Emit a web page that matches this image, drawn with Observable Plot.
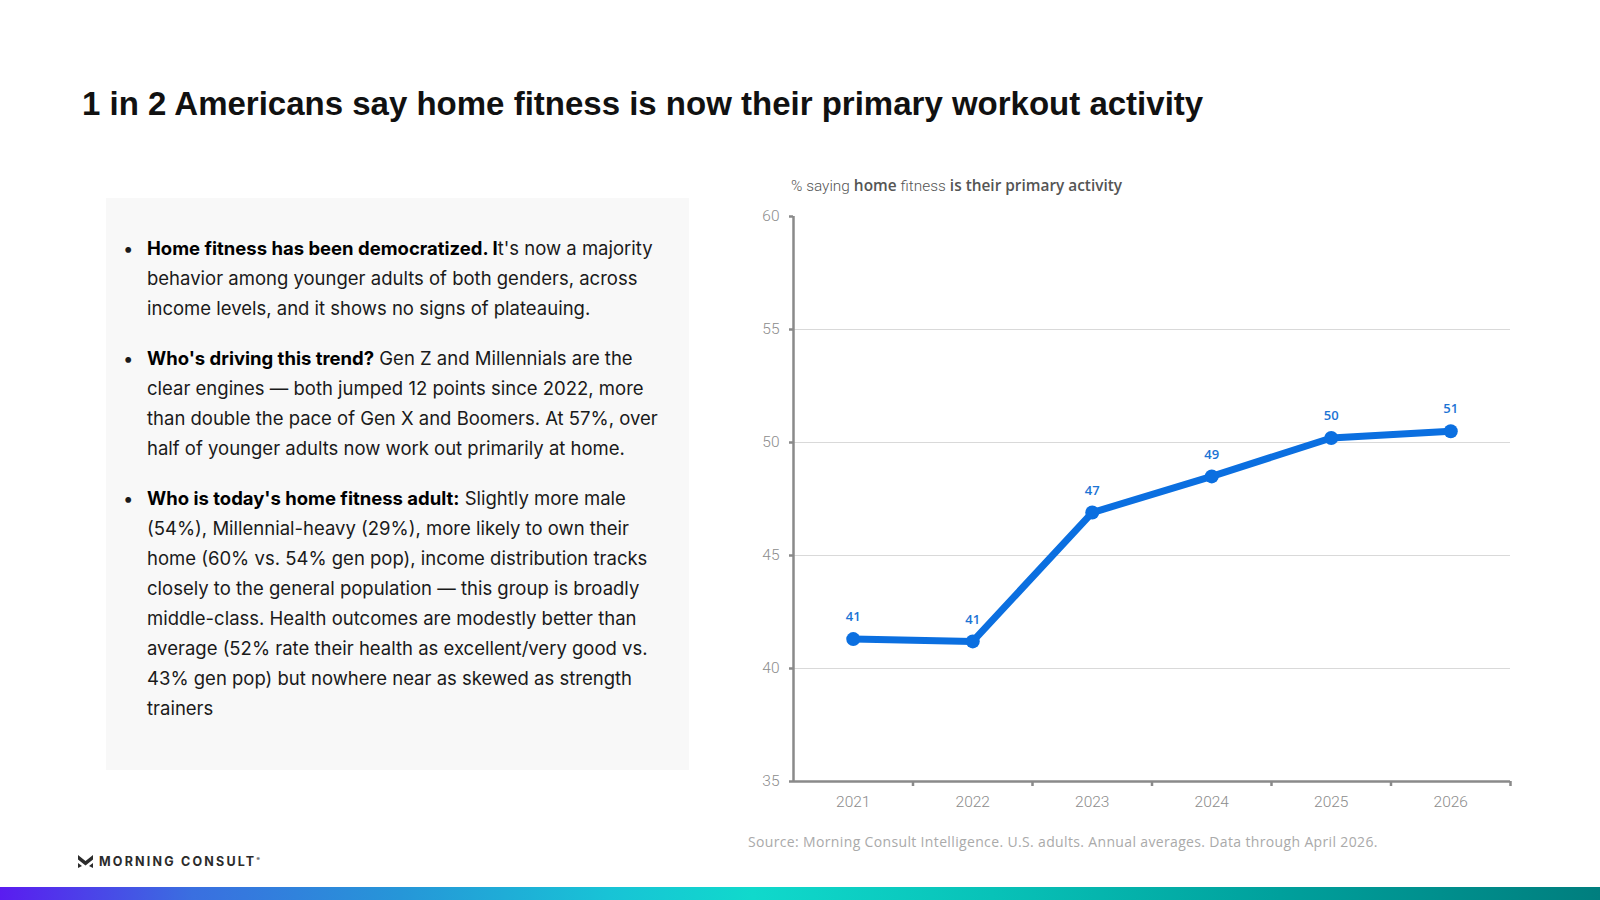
<!DOCTYPE html>
<html>
<head>
<meta charset="utf-8">
<script src="https://cdn.jsdelivr.net/npm/d3@7"></script>
<script src="https://cdn.jsdelivr.net/npm/@observablehq/plot@0.6"></script>
<style>
  html, body { margin: 0; padding: 0; background: #fff; }
  body { width: 1600px; height: 900px; position: relative; overflow: hidden; font-family: Inter, "Noto Sans", sans-serif; }
  #title { position: absolute; left: 82px; top: 85px; font-size: 33px; font-weight: 700; color: #111; white-space: nowrap; font-family: "Liberation Sans", Arial, sans-serif; }
  #panel { position: absolute; left: 106px; top: 198px; width: 583px; height: 572px; background: #f8f8f8; }
  .para { position: absolute; left: 20px; font-size: 18.5px; line-height: 30px; color: #1a1a1a; white-space: nowrap; }
  .para .dot { position: absolute; left: -3px; }
  .para .txt { position: absolute; left: 21px; }
  .para b { font-weight: 700; color: #000; }
  #sub { position: absolute; left: 791px; top: 175px; font-size: 15.4px; color: #555; white-space: nowrap; font-family: "Open Sans", sans-serif; }
  #sub .s { font-weight: 600; }
  #sub .l { font-family: Roboto, sans-serif; font-weight: 300; }
  #chart { position: absolute; left: 740px; top: 196px; }
  #source { position: absolute; left: 748px; top: 832px; font-size: 14px; letter-spacing: 0.35px; color: #aaa; white-space: nowrap; font-family: "Open Sans", sans-serif; }
  #logo { position: absolute; left: 78px; top: 854px; display: flex; align-items: center; gap: 6px; }
  #logo span { font-family: Inter, sans-serif; font-weight: 700; font-size: 12.5px; letter-spacing: 2.2px; color: #2b2b2b; }
  #logo sup { font-size: 5px; letter-spacing: 0; }
  #bar { position: absolute; left: 0; top: 887px; width: 1600px; height: 13px;
    background: linear-gradient(90deg, #5a1cf0 0%, #3a6fe0 12%, #2696d8 25%, #18c3d6 38%, #10d9cc 47%, #08c2b8 62%, #00a09c 80%, #007e7e 100%); }
</style>
</head>
<body>
<div id="title">1 in 2 Americans say home fitness is now their primary workout activity</div>

<div id="panel">
  <div class="para" style="top:35px"><span class="dot">•</span><span class="txt"><b>Home fitness has been democratized. I</b>t's now a majority<br>behavior among younger adults of both genders, across<br>income levels, and it shows no signs of plateauing.</span></div>
  <div class="para" style="top:145px"><span class="dot">•</span><span class="txt"><b>Who's driving this trend?</b> Gen Z and Millennials are the<br>clear engines — both jumped 12 points since 2022, more<br>than double the pace of Gen X and Boomers. At 57%, over<br>half of younger adults now work out primarily at home.</span></div>
  <div class="para" style="top:285px"><span class="dot">•</span><span class="txt"><b>Who is today's home fitness adult:</b> Slightly more male<br>(54%), Millennial-heavy (29%), more likely to own their<br>home (60% vs. 54% gen pop), income distribution tracks<br>closely to the general population — this group is broadly<br>middle-class. Health outcomes are modestly better than<br>average (52% rate their health as excellent/very good vs.<br>43% gen pop) but nowhere near as skewed as strength<br>trainers</span></div>
</div>

<div id="sub"><span class="l">% saying</span> <span class="s">home</span> <span class="l">fitness</span> <span class="s">is their primary activity</span></div>
<div id="chart"></div>
<div id="source">Source: Morning Consult Intelligence. U.S. adults. Annual averages. Data through April 2026.</div>

<div id="logo">
  <svg width="15" height="13" viewBox="0 0 15 13"><path d="M0 0 L7.5 6 L15 0 L15 4.5 L7.5 10.5 L0 4.5 Z" fill="#2b2b2b"/><path d="M0 8 L4 11 L0 13 Z M15 8 L11 11 L15 13 Z" fill="#2b2b2b"/></svg>
  <span>MORNING CONSULT<sup>®</sup></span>
</div>
<div id="bar"></div>

<script>
const years = [2021, 2022, 2023, 2024, 2025, 2026];
const values = [41.3, 41.2, 46.9, 48.5, 50.2, 50.5];
const valueLabels = ["41", "41", "47", "49", "50", "51"];
const yTicks = [35, 40, 45, 50, 55, 60];
const gridTicks = [40, 45, 50, 55];

const data = years.map((year, i) => ({year, value: values[i], label: valueLabels[i]}));
const xDomain = [years[0] - 0.5, years[years.length - 1] + 0.5];
const yDomain = [yTicks[0], yTicks[yTicks.length - 1]];
const bandEdges = years.map(y => y + 0.5);

const blue = "#0b6fe0";
const axisGray = "#8a8a8a";

const chart = Plot.plot({
  width: 790,
  height: 629,
  marginLeft: 53,
  marginRight: 20,
  marginTop: 20,
  marginBottom: 44,
  x: {domain: xDomain, axis: null, label: null},
  y: {domain: yDomain, axis: null, label: null},
  style: {fontFamily: "Roboto, sans-serif", overflow: "visible", background: "transparent"},
  marks: [
    Plot.gridY(gridTicks, {stroke: "#d9d9d9", strokeOpacity: 1, strokeWidth: 1}),
    Plot.axisY({ticks: yTicks, label: null, tickSize: 4, tickPadding: 10, stroke: axisGray, strokeWidth: 2.5, fill: "#8c8c8c", fontSize: 15.5, tickFormat: d => String(d), fontWeight: 300}),
    Plot.axisX({ticks: years, label: null, tickSize: 0, tickPadding: 14, fill: "#8c8c8c", fontSize: 15.5, tickFormat: d => String(d), fontWeight: 300}),
    Plot.axisX({ticks: bandEdges, label: null, tickSize: 5, tickFormat: () => "", stroke: axisGray, strokeWidth: 2.5}),
    Plot.ruleX([xDomain[0]], {stroke: axisGray, strokeWidth: 2.5}),
    Plot.ruleY([yDomain[0]], {stroke: axisGray, strokeWidth: 2.5}),
    Plot.line(data, {x: "year", y: "value", stroke: blue, strokeWidth: 7, strokeLinejoin: "round"}),
    Plot.dot(data, {x: "year", y: "value", r: 7, fill: blue, stroke: "none"}),
    Plot.text(data, {x: "year", y: "value", text: "label", dy: -22, fill: "#1c74d4", fontSize: 13, fontWeight: 600, fontFamily: "Open Sans, sans-serif"})
  ]
});
document.getElementById("chart").appendChild(chart);
</script>
</body>
</html>
